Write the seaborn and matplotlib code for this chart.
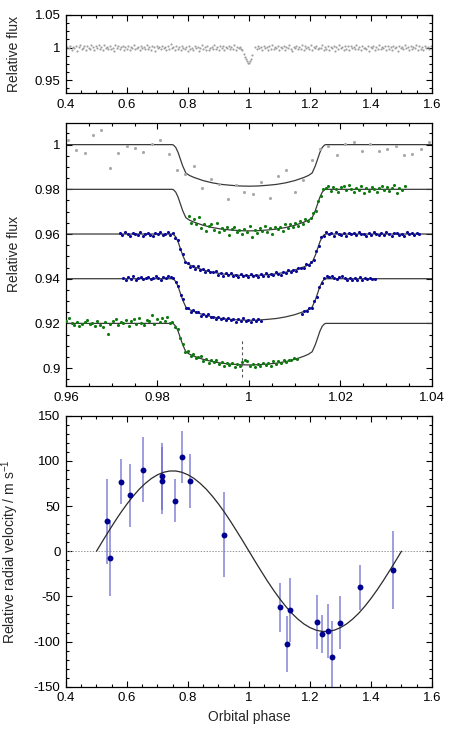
import numpy as np
import matplotlib
matplotlib.use("Agg")
import matplotlib.pyplot as plt
import seaborn as sns
from matplotlib.ticker import MultipleLocator, FuncFormatter

# ---------------- data ----------------
# Top panel: full phase-folded light curve, flux x 1e4
top_seg1_range = (0.400, 0.975)
top_seg1_flux_e4 = [9978, 10012, 9995, 10031, 9964, 10005, 9987, 10024, 9951, 10009, 10040, 9983, 9998, 10017, 9969,
                    10028, 9992, 9975, 10036, 10003, 9958, 10021, 9989, 10047, 9981, 10010, 9966, 10033, 9997, 10015,
                    9972, 10026, 9985, 10001, 9955, 10038, 9993, 10019, 9977, 10008, 10029, 9961, 10004, 9986, 10023,
                    9970, 10013, 9996, 10042, 9980, 9999, 10016, 9959, 10027, 9990, 10006, 9973, 10035, 9984, 10011,
                    9967, 10020, 10002, 9947, 10025, 9988, 10014, 9976, 10032, 9994, 10007, 9963, 10018, 9982, 10055,
                    9991, 10003, 9968, 10022, 9979, 10012, 9957, 10030, 9997, 9985, 10009, 9942, 10017, 9974, 10001,
                    9965, 10026, 9989, 10013, 9953, 9992, 10034, 9978, 10006, 9970, 10021, 9960, 9995, 10015, 9983,
                    10040, 9975, 10002, 9966, 10019, 9987, 10028, 9958, 10008, 9993, 10024, 9971, 10011, 9981, 10036,
                    9962, 10004, 9990, 10016, 9977]
top_seg2_range = (1.020, 1.600)
top_seg2_flux_e4 = [10008, 9972, 10025, 9989, 10014, 9956, 10031, 9997, 10003, 9968, 10019, 9984, 10042, 9976, 10010,
                    9993, 10027, 9961, 10005, 9987, 10022, 9970, 10015, 9999, 10037, 9980, 9952, 10012, 9991, 10029,
                    9974, 10006, 9985, 10046, 9965, 10018, 9996, 10002, 9978, 10033, 9958, 10011, 9988, 10024, 9971,
                    10001, 9994, 10039, 9962, 10016, 9983, 10028, 9969, 10009, 9990, 10020, 9945, 10013, 9979, 10035,
                    9998, 10004, 9966, 10023, 9986, 10017, 9959, 10030, 9992, 10007, 9975, 10044, 9981, 10012, 9963,
                    10026, 9995, 10000, 9973, 10021, 9950, 10014, 9988, 10032, 9967, 10009, 9984, 10038, 9977, 10003,
                    9993, 10025, 9960, 10018, 9982, 10011, 9970, 10029, 9996, 10006, 9954, 10022, 9987, 10015, 9974,
                    10041, 9990, 10002, 9964, 10027, 9980, 10010, 9997, 10034, 9968, 10019, 9985, 10005, 9957, 10023,
                    9992, 10013, 9976, 10030, 9983]
top_dip_phase = [0.978, 0.982, 0.986, 0.990, 0.994, 0.997, 1.000, 1.003, 1.006, 1.010]
top_dip_flux = [0.9960, 0.9895, 0.9850, 0.9820, 0.9790, 0.9765, 0.9760, 0.9790, 0.9830, 0.9880]

# Middle panel: transit model shape (depth below baseline) and offset light curves
model_phase = [0.96, 0.9832, 0.9835, 0.984, 0.9845, 0.985, 0.9855, 0.986, 0.9862, 0.987, 0.988, 0.990, 0.992,
               0.994, 0.996, 0.998, 1.000, 1.002, 1.004, 1.006, 1.008, 1.010, 1.012, 1.013, 1.0138, 1.014,
               1.0145, 1.015, 1.0155, 1.016, 1.0165, 1.0168, 1.04]
model_depth = [0, 0, 0.0002, 0.0013, 0.0035, 0.0065, 0.0095, 0.0118, 0.0127, 0.0138, 0.0147, 0.0161, 0.0171,
               0.0178, 0.0182, 0.0185, 0.0186, 0.0185, 0.0182, 0.0178, 0.0171, 0.0161, 0.0147, 0.0138, 0.0127,
               0.0118, 0.0095, 0.0065, 0.0035, 0.0013, 0.0002, 0, 0]
model_baselines = [1.00, 0.98, 0.96, 0.94, 0.92]

gray_range = (0.9604, 1.0394)
gray_flux_e4 = [10022, 9974, 9964, 10042, 10064, 9897, 9963, 9996, 9984, 9968, 10003, 10022, 9957, 9885, 9870,
                9903, 9808, 9847, 9824, 9755, 9820, 9786, 9781, 9833, 9759, 9861, 9888, 9790, 9841, 9933, 9981,
                9993, 9952, 10001, 10013, 9973, 10004, 9973, 9981, 9993, 9955, 9957, 9979, 10010]
green98_range = (0.9868, 1.0340)
green98_flux_e4 = [9682, 9649, 9666, 9645, 9675, 9628, 9646, 9615, 9636, 9645, 9620, 9648, 9607, 9628, 9618, 9630,
                   9596, 9621, 9632, 9607, 9616, 9600, 9623, 9608, 9634, 9588, 9619, 9603, 9629, 9612, 9635, 9608,
                   9626, 9601, 9633, 9621, 9633, 9614, 9645, 9625, 9645, 9633, 9648, 9635, 9660, 9646, 9666, 9658,
                   9673, 9695, 9701, 9748, 9768, 9803, 9805, 9817, 9792, 9812, 9803, 9786, 9809, 9815, 9795, 9820,
                   9802, 9789, 9807, 9797, 9813, 9782, 9806, 9793, 9810, 9801, 9788, 9808, 9816, 9796, 9811, 9791,
                   9804, 9818, 9784, 9806, 9798, 9814]
blue96_range = (0.9718, 1.0372)
blue96_flux_e4 = [9603, 9594, 9608, 9598, 9591, 9605, 9601, 9596, 9610, 9593, 9602, 9606, 9597, 9592, 9604, 9600,
                  9607, 9595, 9599, 9609, 9597, 9603, 9583, 9571, 9532, 9511, 9473, 9472, 9453, 9457, 9445, 9455,
                  9441, 9443, 9428, 9439, 9428, 9429, 9433, 9418, 9426, 9412, 9425, 9418, 9426, 9413, 9418, 9408,
                  9421, 9412, 9418, 9409, 9423, 9411, 9416, 9407, 9421, 9414, 9424, 9412, 9422, 9416, 9430, 9422,
                  9418, 9431, 9426, 9438, 9430, 9440, 9433, 9450, 9449, 9447, 9466, 9460, 9474, 9485, 9524, 9546,
                  9586, 9593, 9608, 9598, 9605, 9593, 9610, 9601, 9595, 9603, 9591, 9606, 9600, 9604, 9594, 9607,
                  9598, 9602, 9592, 9605, 9597, 9609, 9599, 9594, 9604, 9596, 9608, 9600, 9593, 9603, 9606, 9595,
                  9601, 9591, 9607, 9598, 9604, 9597, 9605, 9599]
blue94a_range = (0.9725, 1.0026)
blue94a_flux_e4 = [9404, 9395, 9407, 9399, 9410, 9393, 9402, 9406, 9397, 9403, 9409, 9398, 9405, 9411, 9401, 9396,
                   9408, 9404, 9412, 9407, 9403, 9384, 9368, 9327, 9307, 9271, 9269, 9253, 9262, 9250, 9249, 9235,
                   9244, 9234, 9242, 9227, 9229, 9218, 9230, 9220, 9223, 9214, 9226, 9217, 9221, 9207, 9218, 9210,
                   9222, 9212, 9215, 9207, 9219, 9212, 9221, 9212]
blue94b_range = (1.0115, 1.0275)
blue94b_flux_e4 = [9244, 9256, 9256, 9269, 9271, 9300, 9319, 9362, 9383, 9405, 9410, 9406, 9412, 9403, 9398, 9409,
                   9414, 9401, 9395, 9404, 9392, 9402, 9396, 9406, 9394, 9403, 9397, 9405, 9400, 9398]
green92_range = (0.9601, 1.0104)
green92_flux_e4 = [9212, 9224, 9203, 9195, 9206, 9190, 9199, 9208, 9217, 9196, 9201, 9188, 9210, 9194, 9185, 9205,
                   9152, 9198, 9212, 9221, 9193, 9207, 9200, 9214, 9189, 9211, 9219, 9197, 9225, 9204, 9192, 9215,
                   9209, 9236, 9198, 9218, 9206, 9223, 9212, 9229, 9203, 9208, 9185, 9177, 9133, 9110, 9074, 9076,
                   9056, 9061, 9043, 9049, 9053, 9033, 9040, 9024, 9037, 9026, 9036, 9017, 9027, 9009, 9022, 9013,
                   9025, 9006, 9017, 9009, 9029, 9036, 9032, 9010, 9020, 9005, 9017, 9009, 9025, 9014, 9023, 9011,
                   9031, 9018, 9030, 9023, 9036, 9028, 9038, 9038, 9046, 9039]
flag_phase = 0.9984
flag_flux = (0.8962, 0.9126)

# Bottom panel: radial velocities (m/s)
rv_phase = [0.533, 0.543, 0.581, 0.610, 0.651, 0.716, 0.716, 0.759, 0.780, 0.807, 0.919,
            1.103, 1.125, 1.136, 1.222, 1.240, 1.260, 1.271, 1.299, 1.364, 1.473]
rv_vel = [33, -8, 77, 62, 90, 83, 78, 56, 104, 78, 18,
          -62, -103, -65, -78, -92, -88, -117, -79, -40, -21]
rv_err = [47, 42, 25, 35, 36, 37, 37, 24, 29, 30, 47,
          27, 31, 35, 30, 21, 30, 40, 29, 25, 43]
rv_model_range = (0.5, 1.5)
rv_model_vel = [0, 11.2, 22.1, 32.8, 42.9, 52.3, 60.9, 68.6, 75.1, 80.5, 84.6, 87.4, 88.8, 88.8, 87.4, 84.6, 80.5,
                75.1, 68.6, 60.9, 52.3, 42.9, 32.8, 22.1, 11.2, 0, -11.2, -22.1, -32.8, -42.9, -52.3, -60.9,
                -68.6, -75.1, -80.5, -84.6, -87.4, -88.8, -88.8, -87.4, -84.6, -80.5, -75.1, -68.6, -60.9,
                -52.3, -42.9, -32.8, -22.1, -11.2, 0]

# ---------------- style ----------------
sns.set_theme(style="ticks")
plt.rcParams['font.family'] = ['Liberation Sans', 'DejaVu Sans']
plt.rcParams['mathtext.default'] = 'regular'
plt.rcParams['axes.unicode_minus'] = False
FS = 9.5

fig = plt.figure(figsize=(4.58, 7.31), dpi=100)
ax_top = fig.add_axes([0.1441, 0.8724, 0.7991, 0.1071])
ax_mid = fig.add_axes([0.1441, 0.4720, 0.7991, 0.3601])
ax_bot = fig.add_axes([0.1441, 0.0606, 0.7991, 0.3707])

fmt = FuncFormatter(lambda v, _: f"{v:g}")


def style(ax, xmaj, xmin, ymaj, ymin):
    ax.xaxis.set_major_locator(MultipleLocator(xmaj))
    ax.xaxis.set_minor_locator(MultipleLocator(xmin))
    ax.yaxis.set_major_locator(MultipleLocator(ymaj))
    ax.yaxis.set_minor_locator(MultipleLocator(ymin))
    ax.xaxis.set_major_formatter(fmt)
    ax.yaxis.set_major_formatter(fmt)
    ax.tick_params(which='both', direction='in', top=True, right=True, colors='black',
                   labelsize=FS, width=0.8)
    ax.tick_params(which='major', length=4, pad=4)
    ax.tick_params(which='minor', length=2.2)
    for s in ax.spines.values():
        s.set_linewidth(0.9)
        s.set_color('black')


def grid(rng, vals):
    return np.linspace(rng[0], rng[1], len(vals))

# ---- top panel ----
for rng, vals in [(top_seg1_range, top_seg1_flux_e4), (top_seg2_range, top_seg2_flux_e4)]:
    sns.scatterplot(x=grid(rng, vals), y=np.array(vals) / 1e4, ax=ax_top, s=2.4,
                    color='#a0a0a0', linewidth=0, legend=False)
sns.scatterplot(x=top_dip_phase, y=top_dip_flux, ax=ax_top, s=2.4, color='#a0a0a0',
                linewidth=0, legend=False)
ax_top.set_xlim(0.4, 1.6)
ax_top.set_ylim(0.93, 1.05)
style(ax_top, 0.2, 0.05, 0.05, 0.0125)
ax_top.set_ylabel("Relative flux", fontsize=FS + 0.5)
ax_top.set_xlabel("")

# ---- middle panel ----
for b in model_baselines:
    sns.lineplot(x=model_phase, y=b - np.array(model_depth), ax=ax_mid, color='#3a3a3a',
                 lw=0.9, estimator=None, sort=False)
series = [
    (gray_range, gray_flux_e4, '#a8a8a8', 5),
    (green98_range, green98_flux_e4, '#0f7a0f', 5),
    (blue96_range, blue96_flux_e4, '#0a0a96', 5),
    (blue94a_range, blue94a_flux_e4, '#0a0a96', 5),
    (blue94b_range, blue94b_flux_e4, '#0a0a96', 5),
    (green92_range, green92_flux_e4, '#0f7a0f', 5),
]
for rng, vals, col, sz in series:
    sns.scatterplot(x=grid(rng, vals), y=np.array(vals) / 1e4, ax=ax_mid, s=sz, color=col,
                    linewidth=0, legend=False, zorder=3)
ax_mid.vlines(flag_phase, flag_flux[0], flag_flux[1], colors='#555555', linestyles=(0, (2.5, 2.5)),
              lw=0.8)
ax_mid.set_xlim(0.96, 1.04)
ax_mid.set_ylim(0.892, 1.0098)
style(ax_mid, 0.02, 0.005, 0.02, 0.005)
ax_mid.set_ylabel("Relative flux", fontsize=FS + 0.5)
ax_mid.set_xlabel("")

# ---- bottom panel ----
ax_bot.axhline(0, color='#9a9a9a', lw=0.7, ls=(0, (1.5, 1.5)), zorder=1)
ax_bot.errorbar(rv_phase, rv_vel, yerr=rv_err, fmt='none', ecolor='#6a6ad0', alpha=0.7,
                elinewidth=1.3, capsize=0, zorder=2)
sns.lineplot(x=grid(rv_model_range, rv_model_vel), y=rv_model_vel, ax=ax_bot, color='#2a2a2a',
             lw=0.9, estimator=None, sort=False, zorder=3)
sns.scatterplot(x=rv_phase, y=rv_vel, ax=ax_bot, s=18, color='#000090', linewidth=0,
                legend=False, zorder=4)
ax_bot.set_xlim(0.4, 1.6)
ax_bot.set_ylim(-150, 150)
style(ax_bot, 0.2, 0.05, 50, 10)
ax_bot.set_ylabel("Relative radial velocity / m s$^{-1}$", fontsize=FS + 0.5)
ax_bot.set_xlabel("Orbital phase", fontsize=FS + 0.5)

for ax in (ax_top, ax_mid, ax_bot):
    ax.yaxis.set_label_coords(-0.124, 0.5)

fig.savefig("out.png", dpi=100)
